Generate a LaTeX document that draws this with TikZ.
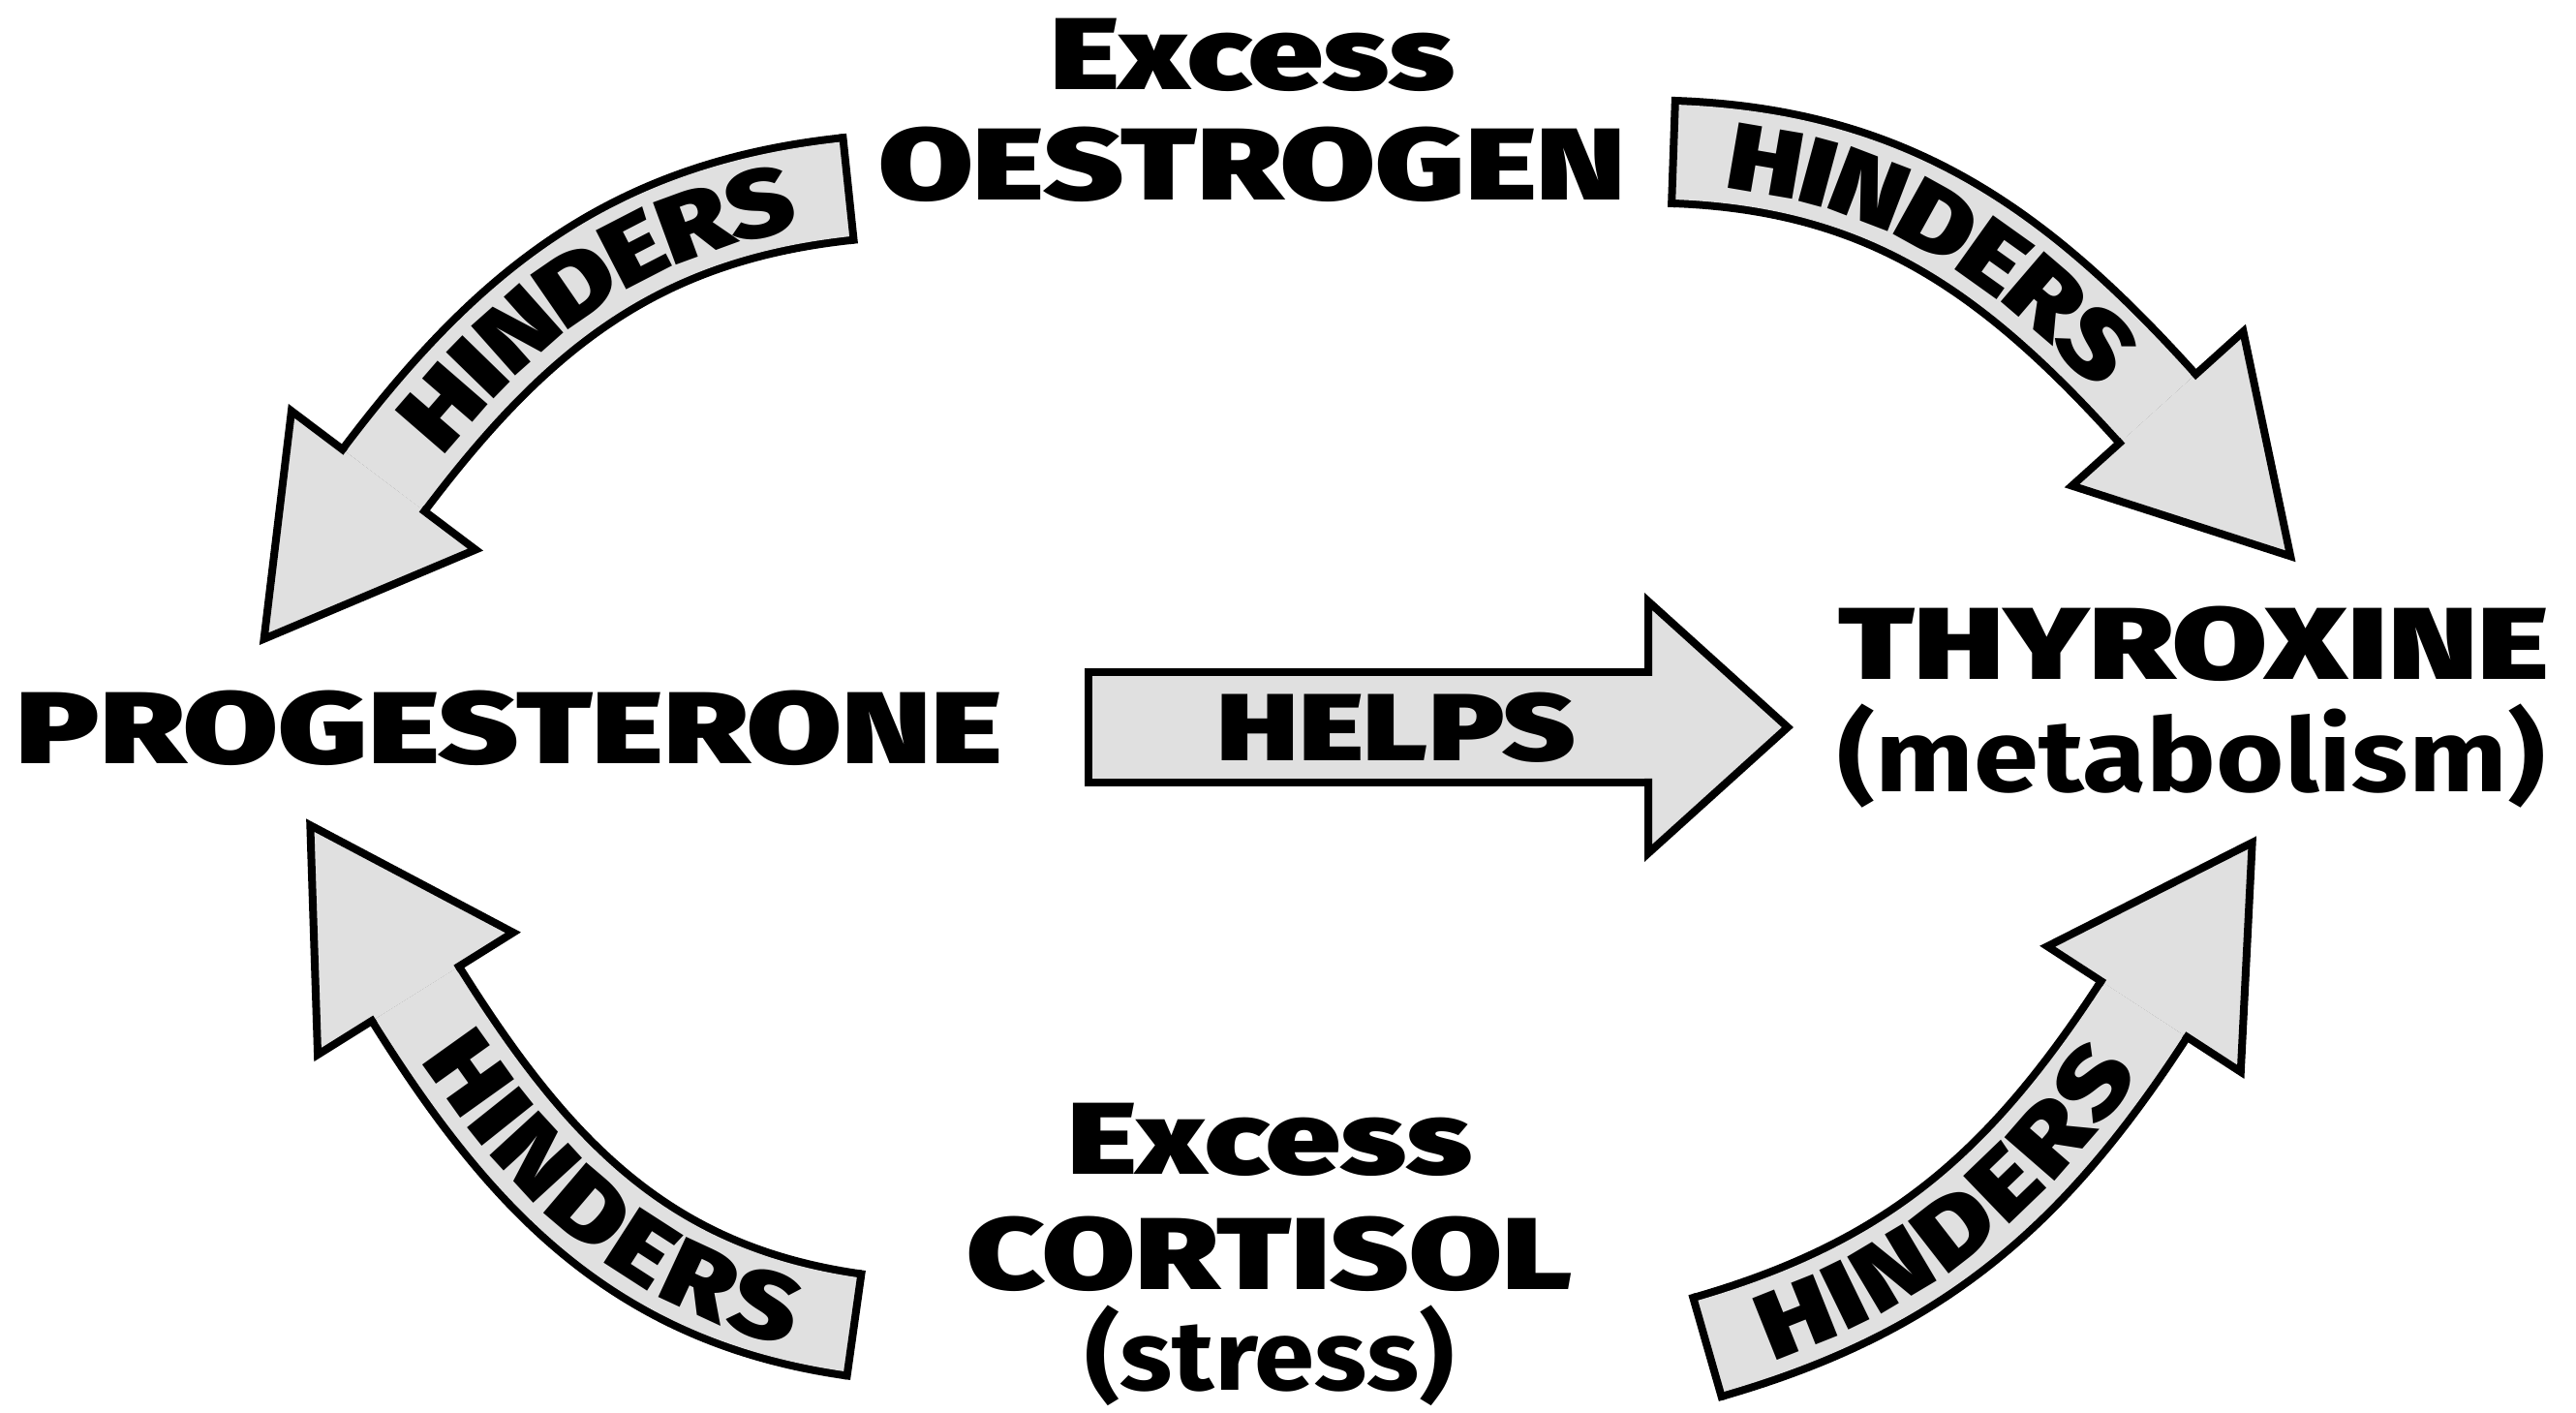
\documentclass[tikz,border=0pt]{standalone}
\usepackage{fontspec}
\setmainfont{Fira Sans}
\newfontfamily\blackfont{Fira Sans Black}[FakeStretch=1.2]
\newfontfamily\semifont{Fira Sans Bold}[FakeStretch=1.1]
\usetikzlibrary{calc}
\usetikzlibrary{decorations.text}

\definecolor{arrowgray}{gray}{0.88}

\tikzset{
  hormone/.style={font=\blackfont\fontsize{30}{30}\selectfont, inner sep=0pt, anchor=base, xscale=1.12},
  excess/.style={font=\blackfont\fontsize{30}{30}\selectfont, inner sep=0pt, anchor=base, xscale=1.09},
  effect/.style={font=\semifont\fontsize{30}{30}\selectfont, inner sep=0pt, anchor=base},
  shaft/.style={draw=black, line width=0.08cm, double=arrowgray, double distance=#1},
  head/.style={fill=arrowgray, draw=black, line width=0.08cm, line join=miter, line cap=rect},
  tailcap/.style={draw=black, line width=0.08cm},
  along/.style 2 args={decorate, decoration={text along path, text={|\blackfont\fontsize{#1}{#1}\selectfont|#2},
    text align=center, raise=-0.345*#1pt}},
}

% big block arrow: tail #2 leaving at angle #3, head base #4 heading #5,
% head half width #6 and head length #7; #1 is the shaft width
\newcommand{\blockarrow}[7][0.98]{%
  \pgfmathsetmacro{\inang}{#5+180}
  \pgfmathsetmacro{\hl}{#5+90}
  \pgfmathsetmacro{\hr}{#5-90}
  \pgfmathsetmacro{\tl}{#3+90}
  \pgfmathsetmacro{\tr}{#3-90}
  \pgfmathsetmacro{\jw}{#1/2+0.04}
  \pgfmathsetmacro{\cw}{#1/2+0.08}
  \draw[shaft=#1cm] (#2) to[out=#3, in=\inang] (#4);
  \draw[tailcap] ($(#2)+(\tl:\cw)$) -- ($(#2)+(\tr:\cw)$);
  \filldraw[head] ($(#4)+(\hl:\jw)$) -- ($(#4)+(\hl:#6)$) -- ($(#4)+(#5:#7)$)
    -- ($(#4)+(\hr:#6)$) -- ($(#4)+(\hr:\jw)$);
}

\begin{document}
\begin{tikzpicture}
\useasboundingbox (0,0) rectangle (26.60,14.59);

% hormones
\node[excess] (excessO) at (12.93,13.66) {Excess};
\node[hormone] (oestrogen) at (12.93,12.52) {OESTROGEN};
\node[hormone] (progesterone) at (5.26,6.70) {PROGESTERONE};
\node[hormone] (thyroxine) at (22.65,7.57) {THYROXINE};
\node[effect, xscale=1.04] (metabolism) at (22.63,6.41) {(metabolism)};
\node[excess] (excessC) at (13.11,2.46) {Excess};
\node[hormone, xscale=0.98] (cortisol) at (13.11,1.27) {CORTISOL};
\node[effect, font=\semifont\fontsize{29}{29}\selectfont] (stress) at (13.11,0.23) {(stress)};

% arrow ends
\coordinate (tlS) at (8.76,12.64);
\coordinate (tlE) at (3.96,9.63);
\coordinate (trS) at (17.28,13.02);
\coordinate (trE) at (22.28,10.37);
\coordinate (blS) at (8.82,0.91);
\coordinate (blE) at (4.29,4.33);
\coordinate (brS) at (17.63,0.68);
\coordinate (brE) at (22.14,4.17);
\coordinate (hpS) at (11.24,7.08);
\coordinate (hpE) at (17.02,7.08);

\blockarrow{tlS}{186}{tlE}{233}{1.19}{2.05}
\blockarrow{trS}{358}{trE}{312}{1.19}{2.05}
\blockarrow{blS}{172}{blE}{122}{1.19}{2.05}
\blockarrow{brS}{16}{brE}{57}{1.19}{2.05}
\blockarrow[1.06]{hpS}{0}{hpE}{0}{1.30}{1.44}

% labels on the arrows
\path[along={28}{HINDERS}] (tlE) to[out=53, in=186] (tlS);
\path[along={28}{HINDERS}] (trS) to[out=358, in=132] (trE);
\path[along={28}{HINDERS}] (blE) to[out=302, in=172] (blS);
\path[along={28}{HINDERS}] (brS) to[out=16, in=237] (brE);
\node[font=\blackfont\fontsize{28}{28}\selectfont, inner sep=0pt, xscale=1.09] (helps) at (14.42,7.08) {HELPS};
\end{tikzpicture}
\end{document}
